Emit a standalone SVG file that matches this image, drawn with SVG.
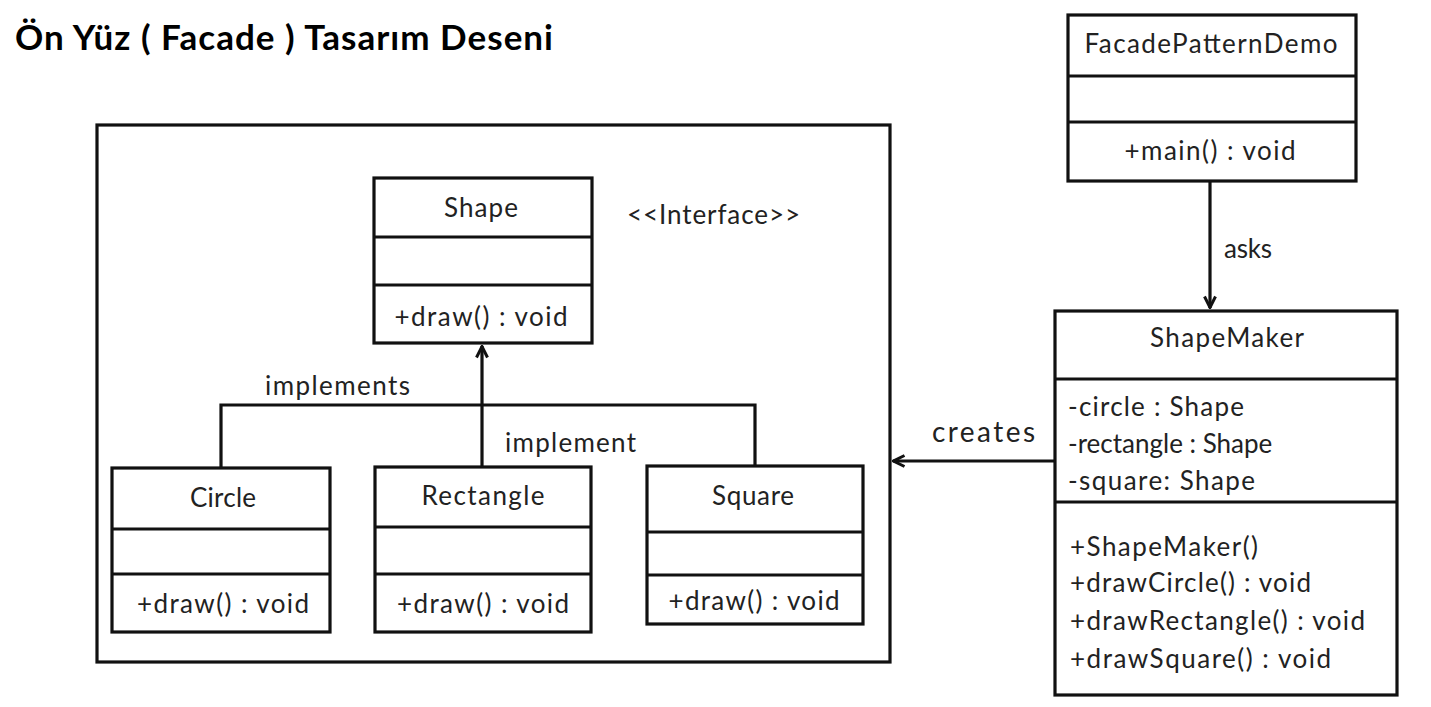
<svg xmlns="http://www.w3.org/2000/svg" width="1431" height="707" viewBox="0 0 1431 707">
<defs>
<style>
.box{fill:#fff;stroke:#111;stroke-width:3.2}
.div{stroke:#111;stroke-width:3.2}
.t{font-family:Lato,"Open Sans","Liberation Sans",sans-serif;font-size:26px;fill:#222}
.c{text-anchor:middle}
.title{font-family:Lato,"Open Sans","Liberation Sans",sans-serif;font-size:35px;font-weight:bold;fill:#000}
.ln{fill:none;stroke:#111;stroke-width:3.2}
</style>
<marker id="open" viewBox="0 0 14 14" refX="13" refY="7" markerWidth="14" markerHeight="14" markerUnits="userSpaceOnUse" orient="auto">
<path d="M1.5,1.5 L12.5,7 L1.5,12.5" fill="none" stroke="#111" stroke-width="3"/>
</marker>
</defs>
<rect width="1431" height="707" fill="#fff"/>
<text class="title" x="15" y="50" textLength="538">Ön Yüz ( Facade ) Tasarım Deseni</text>
<rect id="frame" x="97" y="125" width="793" height="537" fill="none" stroke="#111" stroke-width="3.2"/>
<g id="connectors">
<path class="ln" d="M221,468 V405 H755 V466"/>
<path class="ln" d="M482,466 V346" marker-end="url(#open)"/>
<path class="ln" d="M1210,182 V308" marker-end="url(#open)"/>
<path class="ln" d="M1055,461 H893" marker-end="url(#open)"/>
<text class="t" x="265" y="395" textLength="145">implements</text>
<text class="t" x="505" y="452" textLength="131">implement</text>
<text class="t" x="1224" y="258" textLength="48">asks</text>
<text class="t" x="932" y="442" textLength="103" style="font-size:28px">creates</text>
</g>
<g id="shape">
<rect class="box" x="374" y="178" width="218" height="165"/>
<line class="div" x1="374" y1="237" x2="592" y2="237"/>
<line class="div" x1="374" y1="285" x2="592" y2="285"/>
<text class="t c" x="481" y="217" textLength="74">Shape</text>
<text class="t c" x="481" y="326" textLength="173">+draw() : void</text>
<text class="t" x="627" y="224" textLength="173">&lt;&lt;Interface&gt;&gt;</text>
</g>
<g id="circle">
<rect class="box" x="112" y="468" width="218" height="164"/>
<line class="div" x1="112" y1="529" x2="330" y2="529"/>
<line class="div" x1="112" y1="574" x2="330" y2="574"/>
<text class="t c" x="223" y="507" textLength="66">Circle</text>
<text class="t c" x="223" y="613" textLength="172">+draw() : void</text>
</g>
<g id="rectangle">
<rect class="box" x="375" y="467" width="216" height="165"/>
<line class="div" x1="375" y1="527" x2="591" y2="527"/>
<line class="div" x1="375" y1="574" x2="591" y2="574"/>
<text class="t c" x="483" y="505" textLength="123">Rectangle</text>
<text class="t c" x="483" y="613" textLength="172">+draw() : void</text>
</g>
<g id="square">
<rect class="box" x="647" y="466" width="216" height="158"/>
<line class="div" x1="647" y1="532" x2="863" y2="532"/>
<line class="div" x1="647" y1="575" x2="863" y2="575"/>
<text class="t c" x="753" y="505" textLength="82">Square</text>
<text class="t c" x="754" y="610" textLength="171">+draw() : void</text>
</g>
<g id="facadepatterndemo">
<rect class="box" x="1068" y="15" width="288" height="166"/>
<line class="div" x1="1068" y1="76" x2="1356" y2="76"/>
<line class="div" x1="1068" y1="122" x2="1356" y2="122"/>
<text class="t c" x="1211" y="53" textLength="253">FacadePatternDemo</text>
<text class="t c" x="1210" y="160" textLength="171">+main() : void</text>
</g>
<g id="shapemaker">
<rect class="box" x="1055" y="311" width="342" height="384"/>
<line class="div" x1="1055" y1="379" x2="1397" y2="379"/>
<line class="div" x1="1055" y1="502" x2="1397" y2="502"/>
<text class="t c" x="1227" y="347" textLength="154">ShapeMaker</text>
<text class="t" x="1068" y="416" textLength="176">-circle : Shape</text>
<text class="t" x="1068" y="453">-rectangle : Shape</text>
<text class="t" x="1068" y="490" textLength="187">-square: Shape</text>
<text class="t" x="1070" y="556" textLength="188">+ShapeMaker()</text>
<text class="t" x="1070" y="592" textLength="241">+drawCircle() : void</text>
<text class="t" x="1070" y="630" textLength="295">+drawRectangle() : void</text>
<text class="t" x="1070" y="668" textLength="261">+drawSquare() : void</text>
</g>
</svg>
